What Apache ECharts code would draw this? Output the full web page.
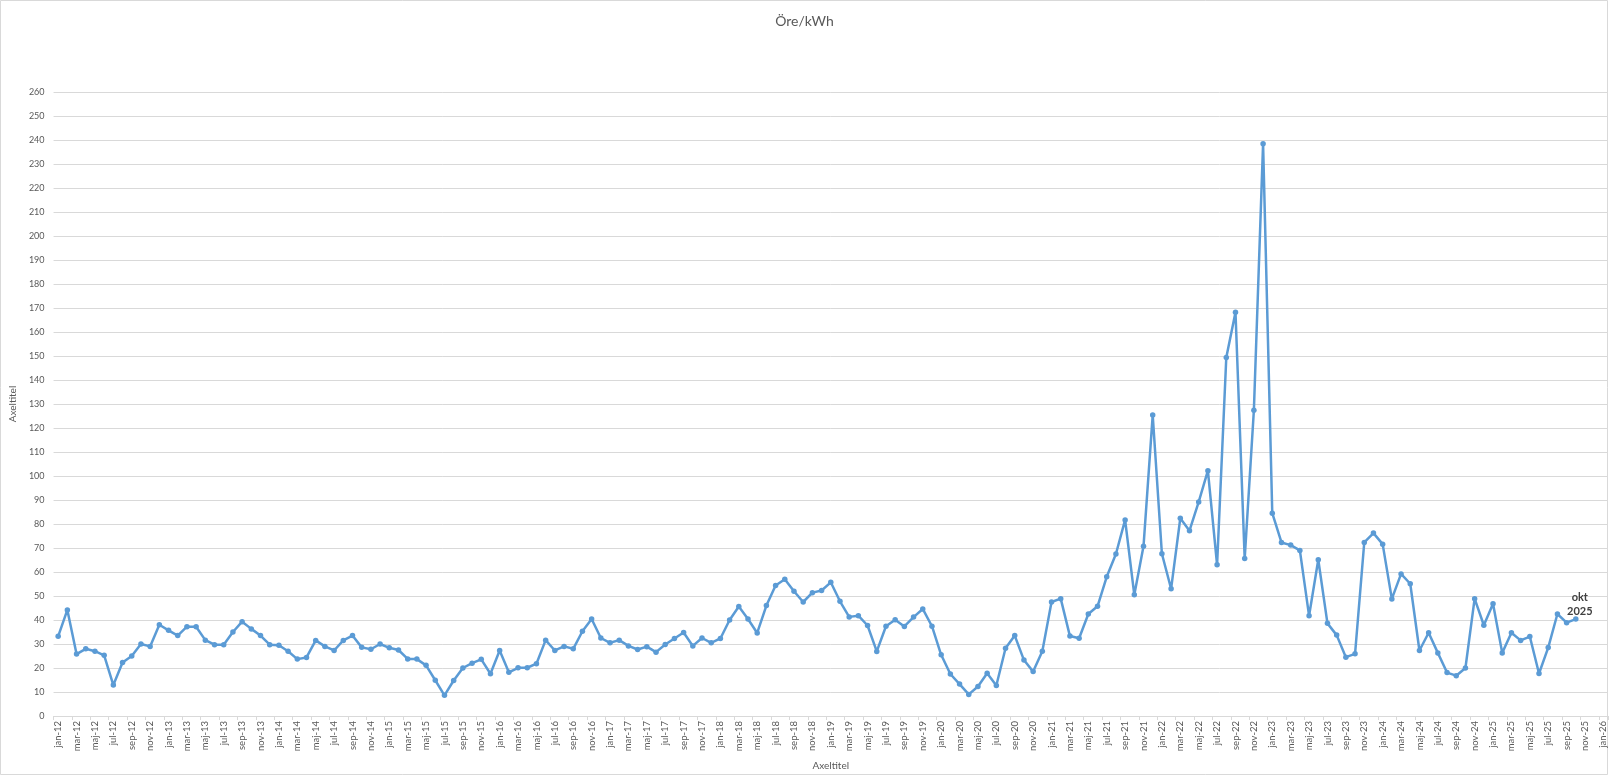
<!DOCTYPE html>
<html>
<head>
<meta charset="utf-8">
<script src="https://cdn.jsdelivr.net/npm/echarts@6/dist/echarts.min.js"></script>
<style>
html,body{margin:0;padding:0;background:#fff;}
#chart{width:1609px;height:776px;}
</style>
</head>
<body>
<div id="chart"></div>
<script>
const monthNames = ['jan','feb','mar','apr','maj','jun','jul','aug','sep','okt','nov','dec'];
const years = ['12','13','14','15','16','17','18','19','20','21','22','23','24','25'];
const extraCategories = ['jan-26'];

const price2012 = [33.2, 44.2, 25.8, 28.0, 27.0, 25.3, 12.9, 22.3, 25.0, 30.0, 29.0, 38.0];
const price2013 = [35.7, 33.5, 37.2, 37.2, 31.6, 29.7, 29.7, 35.0, 39.3, 36.3, 33.5, 29.7];
const price2014 = [29.5, 27.0, 23.7, 24.4, 31.5, 29.0, 27.3, 31.5, 33.5, 28.6, 27.8, 30.0];
const price2015 = [28.4, 27.5, 23.8, 23.7, 21.1, 14.9, 8.6, 14.8, 20.0, 22.0, 23.6, 17.6];
const price2016 = [27.3, 18.2, 20.1, 20.1, 21.8, 31.6, 27.3, 29.0, 28.0, 35.3, 40.4, 32.5];
const price2017 = [30.5, 31.6, 29.2, 27.7, 28.9, 26.6, 29.8, 32.3, 34.8, 29.2, 32.5, 30.5];
const price2018 = [32.3, 40.0, 45.6, 40.4, 34.6, 46.0, 54.4, 57.0, 52.0, 47.5, 51.4, 52.3];
const price2019 = [55.7, 47.8, 41.3, 41.8, 37.7, 26.9, 37.4, 40.1, 37.3, 41.2, 44.6, 37.4];
const price2020 = [25.5, 17.5, 13.3, 9.0, 12.3, 17.8, 12.7, 28.2, 33.5, 23.3, 18.5, 27.0];
const price2021 = [47.5, 48.9, 33.3, 32.4, 42.5, 45.7, 58.0, 67.5, 81.7, 50.5, 70.7, 125.4];
const price2022 = [67.6, 53.0, 82.4, 77.2, 89.2, 102.2, 63.0, 149.4, 168.2, 65.6, 127.4, 238.4];
const price2023 = [84.5, 72.3, 71.2, 69.0, 41.8, 65.1, 38.6, 33.7, 24.5, 25.9, 72.3, 76.2];
const price2024 = [71.6, 48.8, 59.2, 55.1, 27.3, 34.7, 26.3, 18.1, 16.8, 20.0, 48.9, 37.8];
const price2025 = [46.8, 26.3, 34.7, 31.5, 33.1, 17.7, 28.5, 42.5, 38.9, 40.4];

const lastLabel = 'okt\n2025';

const categories = [];
years.forEach(y => monthNames.forEach(m => categories.push(m + '-' + y)));
extraCategories.forEach(c => categories.push(c));

const prices = [].concat(price2012, price2013, price2014, price2015, price2016, price2017,
  price2018, price2019, price2020, price2021, price2022, price2023, price2024, price2025);

const seriesData = prices.map((v, i) => {
  if (i === prices.length - 1) {
    return {
      value: v,
      label: {
        show: true, position: 'top', formatter: lastLabel,
        fontWeight: 'bold', fontSize: 11, color: '#404040',
        fontFamily: 'Lato, sans-serif', lineHeight: 14, offset: [4, 7]
      }
    };
  }
  return v;
});

const chart = echarts.init(document.getElementById('chart'), null, {renderer: 'canvas'});
const txt = '#595959';
chart.setOption({
  animation: false,
  backgroundColor: '#fff',
  title: {
    text: 'Öre/kWh', left: 'center', top: 9,
    textStyle: {fontSize: 14, fontWeight: 'normal', color: txt, fontFamily: 'Lato, sans-serif'}
  },
  graphic: [{
    type: 'rect', silent: true,
    shape: {x: 0.5, y: 0.5, width: 1607, height: 774},
    style: {fill: 'none', stroke: '#d9d9d9', lineWidth: 1}
  }],
  grid: {left: 52, right: 1, top: 92, bottom: 52, containLabel: false},
  xAxis: {
    type: 'category', data: categories, boundaryGap: true,
    name: 'Axeltitel', nameLocation: 'middle', nameGap: 45,
    nameTextStyle: {color: txt, fontSize: 10, fontFamily: 'Lato, sans-serif'},
    axisLine: {lineStyle: {color: '#d9d9d9'}},
    axisTick: {show: true, interval: 1, length: 4, lineStyle: {color: '#d9d9d9'}},
    axisLabel: {interval: 1, rotate: 90, color: txt, fontSize: 9.5, margin: 5, fontFamily: 'Lato, sans-serif'}
  },
  yAxis: {
    type: 'value', min: 0, max: 260, interval: 10,
    name: 'Axeltitel', nameLocation: 'middle', nameGap: 33, nameRotate: 90,
    nameTextStyle: {color: txt, fontSize: 10, fontFamily: 'Lato, sans-serif'},
    axisLine: {show: false}, axisTick: {show: false},
    axisLabel: {color: txt, fontSize: 9, margin: 9, fontFamily: 'Lato, sans-serif'},
    splitLine: {lineStyle: {color: '#d9d9d9', width: 1}}
  },
  series: [{
    type: 'line', data: seriesData,
    symbol: 'circle', symbolSize: 5.5, showAllSymbol: true,
    lineStyle: {color: '#5b9bd5', width: 2.5},
    itemStyle: {color: '#5b9bd5'}
  }]
});
</script>
</body>
</html>
